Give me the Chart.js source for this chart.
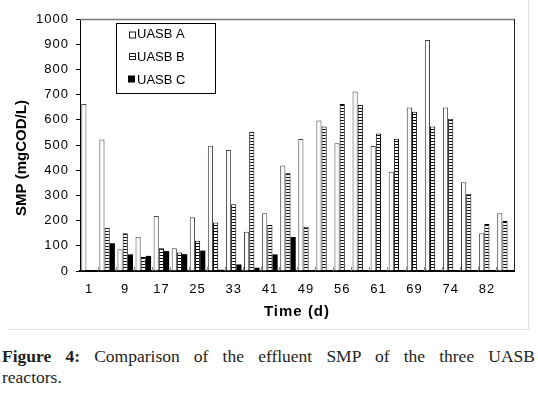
<!DOCTYPE html>
<html>
<head>
<meta charset="utf-8">
<script src="https://cdn.jsdelivr.net/npm/chart.js@4.4.1/dist/chart.umd.min.js"></script>
<style>
  body { margin: 0; background: #fff; }
  #wrap { position: relative; width: 538px; height: 397px; overflow: hidden; }
  #frame { position: absolute; left: 8px; top: 0; width: 520px; height: 329px;
           border-right: 1px solid #e2e2e2; border-bottom: 1px solid #e2e2e2; }
  #smpChart { position: absolute; left: 0; top: 0; }
  #caption { position: absolute; left: 2px; top: 346px; width: 533px;
             font: 17.5px/21px "Liberation Serif", "Times New Roman", serif;
             color: #231f20; }
  #caption .l1 { display: block; text-align: justify; text-align-last: justify; }
  #caption b { font-weight: bold; }
</style>
</head>
<body>
<div id="wrap">
  <div id="frame"></div>
  <canvas id="smpChart" width="528" height="329"></canvas>
  <div id="caption"><span class="l1"><b>Figure 4:</b> Comparison of the effluent SMP of the three UASB</span>reactors.</div>
</div>
<script>
// sampling days (every other one is labelled on the axis)
const days = ['1', '5', '9', '13', '17', '21', '25', '29', '33', '37', '41', '45',
              '49', '53', '56', '59', '61', '65', '69', '72', '74', '78', '82', '86'];
const uasbA = [663, 522, 86, 136, 218, 90, 213, 497, 480, 156, 229, 419,
               524, 597, 507, 712, 496, 394, 649, 917, 649, 352, 150, 229];
const uasbB = [0, 172, 150, 56, 90, 73, 120, 192, 265, 553, 183, 390,
               176, 573, 663, 660, 546, 525, 632, 573, 604, 307, 187, 198];
const uasbC = [0, 110, 66, 60, 79, 67, 81, 5, 26, 13, 66, 135,
               0, 0, 0, 0, 0, 0, 0, 0, 0, 0, 0, 0];
const yTicks = [0, 100, 200, 300, 400, 500, 600, 700, 800, 900, 1000];

const FONT = '"Liberation Sans", Arial, sans-serif';

// ladder-like hatch for UASB B
function ladder() {
    const c = document.createElement('canvas');
    c.width = 4; c.height = 3;
    const g = c.getContext('2d');
    g.fillStyle = '#fff'; g.fillRect(0, 0, 4, 3);
    g.fillStyle = '#000'; g.fillRect(0, 0, 4, 1);
    return g.createPattern(c, 'repeat');
}

const spacing = {
    id: 'spacing',
    beforeDraw(chart) { chart.ctx.letterSpacing = '1px'; },
    afterDraw(chart) { chart.ctx.letterSpacing = '0px'; }
};

const decor = {
    id: 'decor',
    afterDraw(chart) {
        const ctx = chart.ctx;
        const a = chart.chartArea;
        ctx.save();
        // plot frame (top + right)
        ctx.strokeStyle = '#7a7a7a'; ctx.lineWidth = 1.5;
        ctx.beginPath(); ctx.moveTo(a.left, a.top + 0.5); ctx.lineTo(a.right, a.top + 0.5); ctx.stroke();
        ctx.strokeStyle = '#222'; ctx.lineWidth = 1;
        ctx.beginPath(); ctx.moveTo(a.right + 0.5, a.top); ctx.lineTo(a.right + 0.5, a.bottom); ctx.stroke();

        // small category tick marks sitting on the x axis
        const x = chart.scales.x;
        ctx.strokeStyle = '#888';
        for (let i = 1; i < days.length; i++) {
            const px = Math.round(a.left + (a.right - a.left) * i / days.length) + 0.5;
            ctx.beginPath(); ctx.moveTo(px, a.bottom - 4); ctx.lineTo(px, a.bottom); ctx.stroke();
        }

        // y title
        ctx.fillStyle = '#000';
        ctx.font = 'bold 15px ' + FONT;
        ctx.textAlign = 'center'; ctx.textBaseline = 'middle';
        ctx.translate(22, 158); ctx.rotate(-Math.PI / 2);
        ctx.fillText('SMP (mgCOD/L)', 0, 0);
        ctx.restore();

        // legend box
        ctx.save();
        ctx.fillStyle = '#fff'; ctx.fillRect(116.5, 23.5, 99, 70);
        ctx.strokeStyle = '#000'; ctx.lineWidth = 1;
        ctx.strokeRect(116.5, 23.5, 99, 70);
        ctx.font = '13px ' + FONT;
        ctx.textAlign = 'left'; ctx.textBaseline = 'middle';
        const rows = [34.5, 57, 80];
        chart.data.datasets.forEach((ds, i) => {
            const y = rows[i];
            if (i === 0) {
                ctx.fillStyle = '#fff'; ctx.fillRect(129.5, y - 2.5, 6, 6);
                ctx.strokeStyle = '#222'; ctx.strokeRect(129.5, y - 2.5, 6, 6);
            } else if (i === 1) {
                ctx.fillStyle = '#fff'; ctx.fillRect(129.5, y - 3.5, 6, 6);
                ctx.strokeStyle = '#222'; ctx.strokeRect(129.5, y - 3.5, 6, 6);
                ctx.beginPath(); ctx.moveTo(129.5, y - 0.5); ctx.lineTo(135.5, y - 0.5); ctx.stroke();
            } else {
                ctx.fillStyle = '#000'; ctx.fillRect(128, y - 4.5, 7, 7);
            }
            ctx.fillStyle = '#000';
            ctx.fillText(ds.label, 137, y);
        });
        ctx.restore();
    }
};

const ctx = document.getElementById('smpChart').getContext('2d');
new Chart(ctx, {
    type: 'bar',
    data: {
        labels: days,
        datasets: [
            { label: 'UASB A', data: uasbA, backgroundColor: '#fafafa', borderColor: '#444', borderWidth: 1 },
            { label: 'UASB B', data: uasbB, backgroundColor: ladder(), borderColor: '#000', borderWidth: 1 },
            { label: 'UASB C', data: uasbC, backgroundColor: '#000', borderColor: '#000', borderWidth: 0 }
        ]
    },
    options: {
        responsive: false,
        animation: false,
        layout: { padding: { left: 0, top: 19, right: 14, bottom: 0 } },
        datasets: { bar: { categoryPercentage: 0.86, barPercentage: 1.0 } },
        plugins: { legend: { display: false }, tooltip: { enabled: false } },
        scales: {
            x: {
                grid: { display: false },
                border: { color: '#000', width: 2 },
                ticks: {
                    autoSkip: false, maxRotation: 0, padding: 3, color: '#000',
                    font: { family: FONT, size: 13 },
                    callback: function (v, i) { return i % 2 === 0 ? this.getLabelForValue(v) : ''; }
                },
                title: {
                    display: true, text: 'Time (d)', color: '#000',
                    font: { family: FONT, size: 15, weight: 'bold' },
                    padding: { top: 0, bottom: 8 }
                },
                afterFit: s => { s.height = 58; }
            },
            y: {
                min: 0, max: 1000,
                afterBuildTicks: s => { s.ticks = yTicks.map(v => ({ value: v })); },
                grid: { drawOnChartArea: false, tickLength: 4, color: '#000' },
                border: { color: '#000', width: 1 },
                ticks: {
                    padding: 7, color: '#000', font: { family: FONT, size: 13 },
                    callback: v => String(v)
                },
                afterFit: s => { s.width = 80; }
            }
        }
    },
    plugins: [spacing, decor]
});
</script>
</body>
</html>
